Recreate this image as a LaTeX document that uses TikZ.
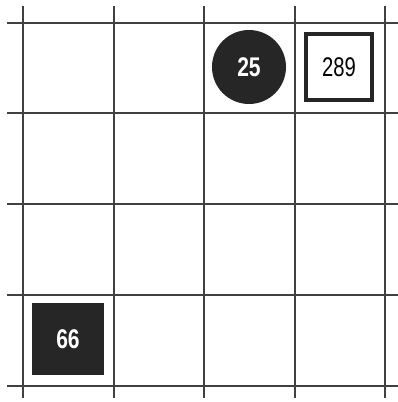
\documentclass[tikz,border=0pt]{standalone}
\usepackage{fontspec}
\setmainfont{Liberation Sans}
\begin{document}
\begin{tikzpicture}[x=1pt,y=1pt,
  gridline/.style={draw=black!75,line width=1.1pt},
  num/.style={font=\fontsize{27}{27}\selectfont},
  darkcircle/.style={circle,fill=black!85,text=white,minimum size=74pt,inner sep=0pt,num},
  openbox/.style={rectangle,draw=black!85,line width=3.5pt,fill=white,minimum size=66pt,inner sep=0pt,num},
  darkbox/.style={rectangle,fill=black!85,text=white,minimum size=72pt,inner sep=0pt,num}]
\useasboundingbox (0,0) rectangle (398,402);
\fill[white] (0,0) rectangle (398,402);
\foreach \x in {23,114,204,295,385} \draw[gridline] (\x,396) -- (\x,4);
\foreach \y in {23,113,204,295,386} \draw[gridline] (7,402-\y) -- (398,402-\y);
\node[darkcircle] (c25) at (249,335) {\scalebox{0.78}[1]{\bfseries 25}};
\node[openbox] (b289) at (339,335) {\scalebox{0.75}[1]{289}};
\node[darkbox] (b66) at (68,62.5) {\scalebox{0.78}[1]{\bfseries 66}};
\end{tikzpicture}
\end{document}
